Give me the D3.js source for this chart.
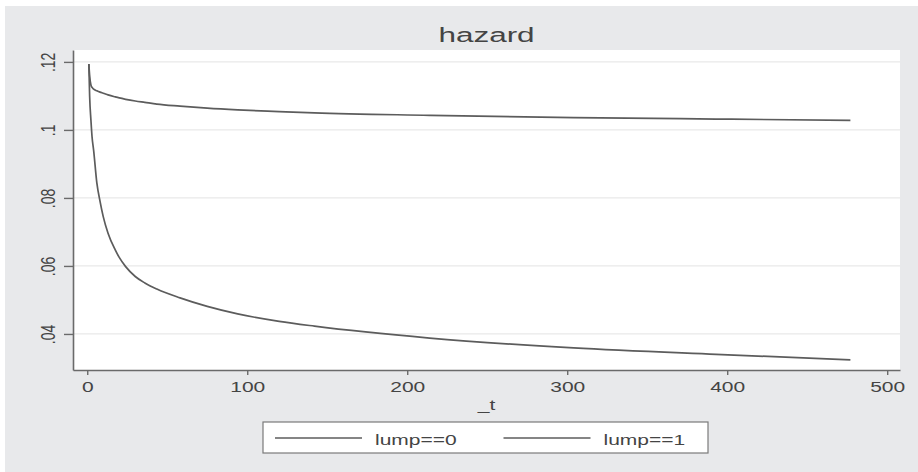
<!DOCTYPE html>
<html>
<head>
<meta charset="utf-8">
<script src="https://cdn.jsdelivr.net/npm/d3@7"></script>
<style>
  body { margin: 0; background: #ffffff; }
  svg { display: block; }
  text { font-family: "Liberation Sans", Arial, Helvetica, sans-serif; fill: #444; }
</style>
</head>
<body>
<div id="chart"></div>
<script>

// values
var times = [1, 1.5, 2.3, 3, 4, 6, 8, 10, 13, 17.5, 20, 24, 30, 36, 43.5, 58, 75, 94, 120, 142, 214, 304, 393, 477];
var hazard_lump0 = [0.1194, 0.1100, 0.1029, 0.0980, 0.0940, 0.0844, 0.0790, 0.0745, 0.0696, 0.0647,
                    0.0625, 0.0598, 0.0569, 0.0550, 0.0532, 0.0506, 0.0481, 0.0459, 0.0437, 0.0423,
                    0.0388, 0.0359, 0.0340, 0.0324];
var hazard_lump1 = [0.1194, 0.1160, 0.1132, 0.1125, 0.1120, 0.1115, 0.1111, 0.1108, 0.1103, 0.1097,
                    0.1094, 0.1090, 0.1085, 0.1081, 0.1076, 0.1070, 0.1064, 0.1059, 0.1054, 0.1050,
                    0.1043, 0.1036, 0.1032, 0.1028];
var series_names = ["lump==0", "lump==1"];
var x_ticks = [0, 100, 200, 300, 400, 500];
var y_ticks = [0.04, 0.06, 0.08, 0.1, 0.12];
var y_tick_labels = [".04", ".06", ".08", ".1", ".12"];

var width = 918, height = 472;
var stretch = 1.5; // text in the picture is drawn wide

var margin = {
  top: 50,
  bottom: 102,
  right: 18,
  left: 73
};

var svg = d3.select("#chart").append("svg")
  .attr("width", width)
  .attr("height", height);

// gray graph region
svg.append("rect")
  .attr("x", 5).attr("y", 6)
  .attr("width", width - 5).attr("height", height - 6)
  .attr("fill", "#e8e9eb");

var plot_w = width - margin.left - margin.right;
var plot_h = height - margin.top - margin.bottom;

var x = d3.scaleLinear().domain([-8.9, 508]).range([0, plot_w]);
var y = d3.scaleLinear().domain([0.0294, 0.1235]).range([plot_h, 0]);

var chart_area = svg.append("g")
  .attr("transform", "translate(" + margin.left + "," + margin.top + ")");

chart_area.append("rect")
  .attr("width", plot_w).attr("height", plot_h)
  .attr("fill", "#ffffff");

// grid
chart_area.selectAll(".grid")
  .data(y_ticks)
  .enter()
  .append("line")
  .attr("class", "grid")
  .attr("x1", 0).attr("x2", plot_w)
  .attr("y1", function(d) { return y(d); })
  .attr("y2", function(d) { return y(d); })
  .attr("stroke", "#e9e9e9")
  .attr("stroke-width", 1.2);

// lines
var line = d3.line()
  .x(function(d) { return x(d[0]); })
  .y(function(d) { return y(d[1]); })
  .curve(d3.curveMonotoneX);

[hazard_lump0, hazard_lump1].forEach(function(vals) {
  chart_area.append("path")
    .datum(times.map(function(t, i) { return [t, vals[i]]; }))
    .attr("d", line)
    .attr("fill", "none")
    .attr("stroke", "#5c5c5c")
    .attr("stroke-width", 1.7);
});

// axes
var y_axis = d3.axisLeft(y)
  .tickValues(y_ticks)
  .tickSize(9)
  .tickSizeOuter(0)
  .tickFormat(function(d, i) { return y_tick_labels[i]; });

var x_axis = d3.axisBottom(x)
  .tickValues(x_ticks)
  .tickSize(5)
  .tickSizeOuter(0)
  .tickFormat(d3.format("d"));

var gy = chart_area.append("g").attr("class", "y_axis").call(y_axis);
var gx = chart_area.append("g").attr("class", "x_axis")
  .attr("transform", "translate(0," + plot_h + ")")
  .call(x_axis);

[gx, gy].forEach(function(g) {
  g.select(".domain").attr("stroke", "#6a6a6a").attr("stroke-width", 1.6);
  g.selectAll(".tick line").attr("stroke", "#6a6a6a").attr("stroke-width", 1.4);
  g.selectAll("text")
    .attr("fill", "#3f3f3f")
    .style("font-size", "14px")
    .style("font-family", "'Liberation Sans', Arial, sans-serif");
});

gy.selectAll("text")
  .attr("x", null).attr("dy", null)
  .style("text-anchor", "middle")
  .attr("transform", "translate(-18,0) scale(" + stretch + ",1) rotate(-90)");

gx.selectAll("text")
  .attr("y", null).attr("dy", null)
  .style("text-anchor", "middle")
  .attr("transform", "translate(0,22) scale(" + stretch + ",1)");

// title and axis title
svg.append("text").attr("class", "title")
  .attr("transform", "translate(" + (margin.left + plot_w / 2) + ",42) scale(" + stretch + ",1)")
  .style("text-anchor", "middle")
  .style("font-size", "21px")
  .text("hazard");

svg.append("text").attr("class", "xlabel")
  .attr("transform", "translate(" + (margin.left + plot_w / 2) + ",410) scale(" + stretch + ",1)")
  .style("text-anchor", "middle")
  .style("font-size", "14px")
  .text("_t");

// legend
var legend = svg.append("g").attr("class", "legend");
legend.append("rect")
  .attr("x", 263).attr("y", 422)
  .attr("width", 445).attr("height", 31)
  .attr("fill", "#ffffff")
  .attr("stroke", "#7a7a7a")
  .attr("stroke-width", 1.2);

var entries = legend.selectAll(".entry")
  .data(series_names)
  .enter()
  .append("g")
  .attr("transform", function(d, i) { return "translate(" + (275 + i * 228.5) + ",438)"; });

entries.append("line")
  .attr("x1", 0).attr("x2", 87)
  .attr("stroke", "#5c5c5c")
  .attr("stroke-width", 1.4);

entries.append("text")
  .attr("transform", "translate(100,7) scale(" + stretch + ",1)")
  .style("font-size", "14px")
  .text(function(d) { return d; });

</script>
</body>
</html>
